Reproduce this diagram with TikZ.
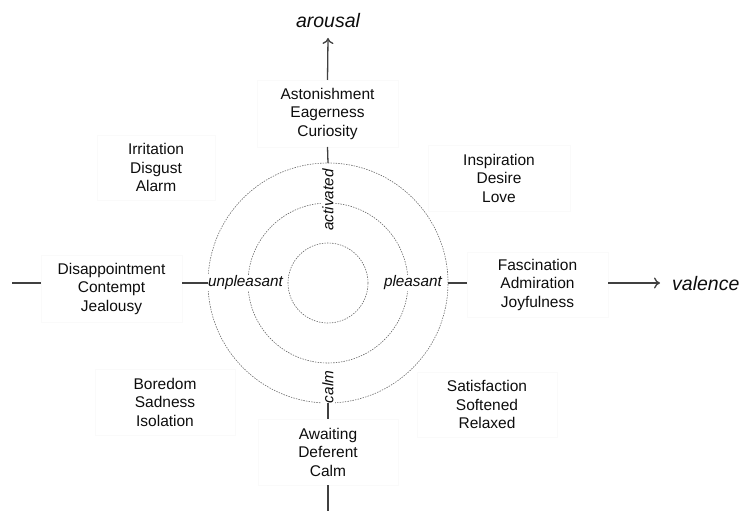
\documentclass[tikz,border=0pt]{standalone}
\usepackage{fontspec}
\setmainfont{Liberation Sans}
\usetikzlibrary{arrows.meta}
\begin{document}
\begin{tikzpicture}[x=1bp,y=-1bp,
  every node/.style={text=black!95},
  ring/.style={circle,draw=black!60,line width=0.6bp,dash pattern=on 1.4bp off 1.2bp,inner sep=0pt,outer sep=0pt},
  group/.style={draw=black!2,line width=0.3bp,align=center,inner sep=0pt,outer sep=0pt,
    font=\fontsize{15.5bp}{18.5bp}\selectfont},
  pole/.style={fill=white,inner sep=1bp,font=\fontsize{15.3bp}{18bp}\selectfont\itshape},
  axis/.style={font=\fontsize{19.5bp}{22bp}\selectfont\itshape,inner sep=0pt},
  link/.style={draw=black!75,line width=1.3bp},
  arr/.style={link,-{To[length=6bp,width=11bp]}}
]
\useasboundingbox (0,0) rectangle (742,511);

% concentric intensity rings
\node[ring,minimum size=240bp] (outer) at (328,283) {};
\node[ring,minimum size=160bp] (middle) at (328,283) {};
\node[ring,minimum size=80bp] (inner) at (328,283) {};

% pole labels on the rings
\node[pole,rotate=90] (act) at (328,200) {activated};
\node[pole,rotate=90] (calm) at (328,387) {calm};
\node[pole] (unpl) at (245.5,283) {unpleasant};
\node[pole] (pl) at (413,283) {pleasant};

% emotion groups
\node[group,minimum width=141bp,minimum height=67bp] (top) at (327.5,113.5) {Astonishment\\Eagerness\\Curiosity};
\node[group,minimum width=140bp,minimum height=66bp] (bottom) at (328,452) {Awaiting\\Deferent\\Calm};
\node[group,minimum width=141bp,minimum height=67bp] (left) at (111.5,288.5) {Disappointment\\Contempt\\Jealousy};
\node[group,minimum width=141bp,minimum height=65bp] (right) at (537.5,284.5) {Fascination\\Admiration\\Joyfulness};
\node[group,minimum width=118bp,minimum height=65bp] (nw) at (156,167.5) {Irritation\\Disgust\\Alarm};
\node[group,minimum width=142bp,minimum height=66bp] (ne) at (499,178) {Inspiration\\Desire\\Love};
\node[group,minimum width=140bp,minimum height=66bp] (sw) at (165,402) {Boredom\\Sadness\\Isolation};
\node[group,minimum width=140bp,minimum height=65bp] (se) at (487,404.5) {Satisfaction\\Softened\\Relaxed};

% axis names
\coordinate (arousaltip) at (328,38);
\coordinate (valtip) at (660,283);
\coordinate (farleft) at (12,283);
\coordinate (floor) at (328,511);
\node[axis,anchor=base] (arousal) at (328,28) {arousal};
\node[axis,anchor=west] (valence) at (672,284) {valence};

% axis segments
\draw[link] (outer.north) -- (top.south);
\draw[arr] (top.north) -- (arousaltip);
\draw[link] (outer.south) -- (bottom.north);
\draw[link] (bottom.south) -- (floor);
\draw[link] (outer.west) -- (outer.west -| left.east);
\draw[link] (left.west |- outer.center) -- (farleft);
\draw[link] (outer.east) -- (outer.east -| right.west);
\draw[arr] (right.east |- outer.center) -- (valtip);
\end{tikzpicture}
\end{document}
